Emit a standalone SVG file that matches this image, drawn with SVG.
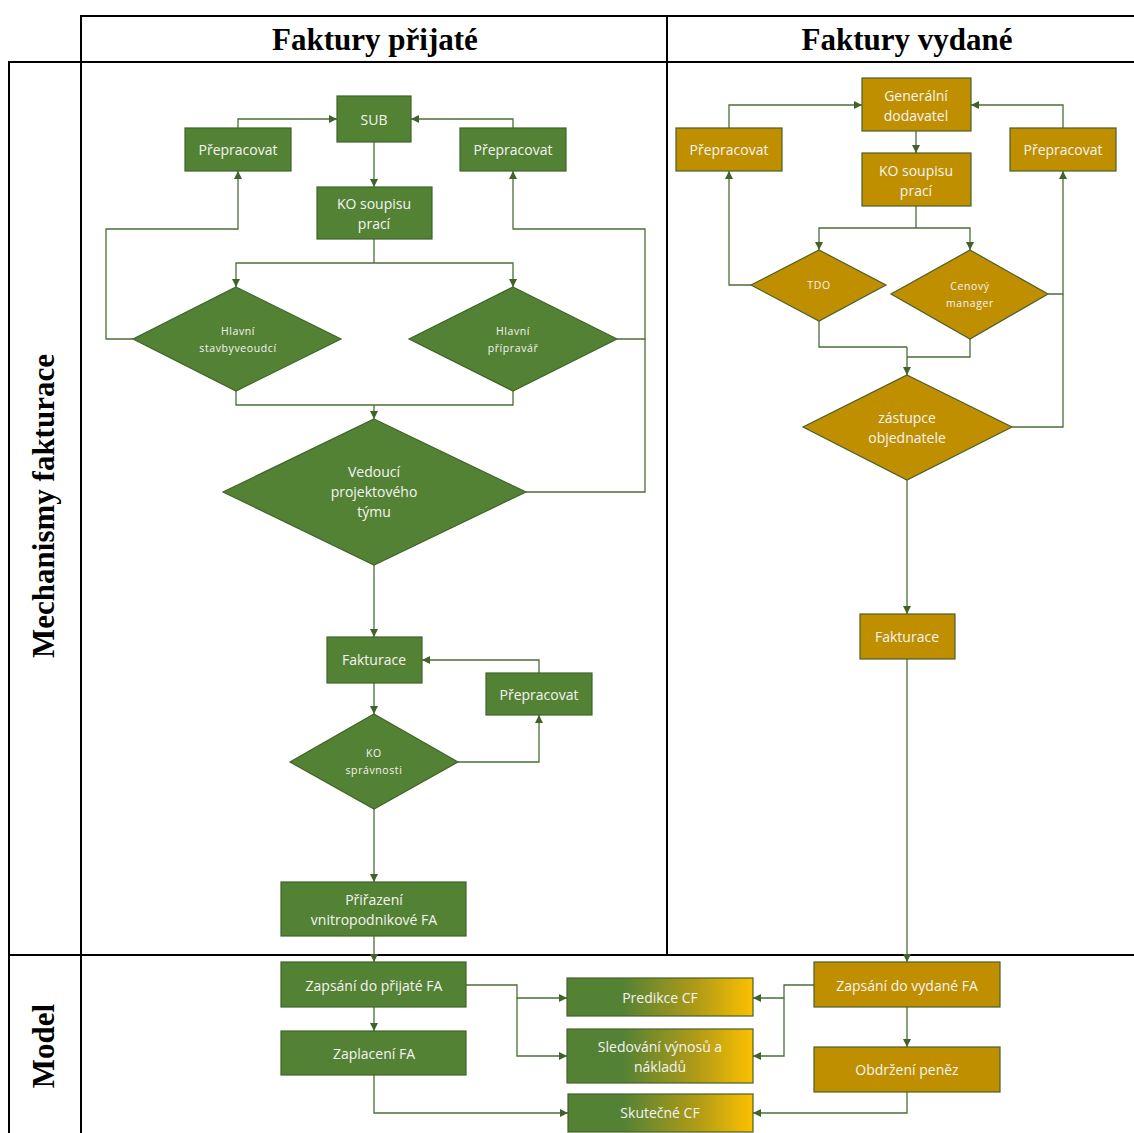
<svg xmlns="http://www.w3.org/2000/svg" width="1134" height="1133" viewBox="0 0 1134 1133">
  <defs>
    <marker id="arr" viewBox="0 0 10 10" refX="10" refY="5" markerWidth="8" markerHeight="8" markerUnits="userSpaceOnUse" orient="auto">
      <path d="M0,0 L10,5 L0,10 Z" fill="#41632b"/>
    </marker>
    <linearGradient id="mix" x1="0" y1="0" x2="1" y2="0">
      <stop offset="0" stop-color="#548235"/>
      <stop offset="0.3" stop-color="#548235"/>
      <stop offset="0.7" stop-color="#b19b16"/>
      <stop offset="1" stop-color="#fcc000"/>
    </linearGradient>
    <style>
      .frame { stroke: #000; stroke-width: 2; fill: none; }
      .head { font-family: "Liberation Serif", serif; font-weight: bold; font-size: 31px; fill: #000; }
      .g { fill: #548235; stroke: #3f6428; stroke-width: 1.2; }
      .y { fill: #bf8f00; stroke: #4a5f2a; stroke-width: 1.2; }
      .m { fill: url(#mix); stroke: #4a5f2a; stroke-width: 1.2; }
      .t { font-family: "Open Sans", "Noto Sans", sans-serif; font-size: 14px; fill: #f4f4f4; text-anchor: middle; dominant-baseline: central; }
      .s { font-family: "Open Sans", "Noto Sans", sans-serif; font-size: 10.5px; fill: #f4f4f4; text-anchor: middle; dominant-baseline: central; letter-spacing: 0.6px; }
      .c { fill: none; stroke: #4b6e37; stroke-width: 1.3; }
      .a { marker-end: url(#arr); }
    </style>
  </defs>

  <!-- swimlane frame -->
  <g id="frame">
    <line class="frame" x1="81" y1="16" x2="1134" y2="16"/>
    <line class="frame" x1="8" y1="62" x2="1134" y2="62"/>
    <line class="frame" x1="8" y1="955" x2="1134" y2="955"/>
    <line class="frame" x1="81" y1="15" x2="81" y2="1133"/>
    <line class="frame" x1="667" y1="15" x2="667" y2="955"/>
    <line class="frame" x1="9" y1="61" x2="9" y2="1133"/>
    <text class="head" x="375" y="50" text-anchor="middle">Faktury přijaté</text>
    <text class="head" x="907" y="50" text-anchor="middle">Faktury vydané</text>
    <text class="head" transform="translate(54,506) rotate(-90)" text-anchor="middle">Mechanismy fakturace</text>
    <text class="head" transform="translate(54,1046) rotate(-90)" text-anchor="middle">Model</text>
  </g>

  <!-- connectors -->
  <g id="connectors">
    <!-- received invoices -->
    <polyline class="c a" points="238,128 238,119 337,119"/>
    <polyline class="c a" points="513,128 513,119 411,119"/>
    <polyline class="c a" points="374,142 374,187"/>
    <polyline class="c" points="374,239 374,263"/>
    <polyline class="c a" points="374,263 236,263 236,287"/>
    <polyline class="c a" points="374,263 513,263 513,287"/>
    <polyline class="c a" points="133,339 106,339 106,229 238,229 238,171"/>
    <polyline class="c a" points="617,339 645,339 645,229 513,229 513,171"/>
    <polyline class="c" points="236,391 236,405 513,405 513,391"/>
    <polyline class="c a" points="374,405 374,419"/>
    <polyline class="c" points="526,492 645,492 645,339"/>
    <polyline class="c a" points="374,565 374,637"/>
    <polyline class="c a" points="374,683 374,714"/>
    <polyline class="c a" points="458,762 539,762 539,715"/>
    <polyline class="c a" points="539,673 539,660 422,660"/>
    <polyline class="c a" points="374,809 374,882"/>
    <polyline class="c a" points="374,936 374,962"/>
    <polyline class="c a" points="374,1007 374,1031"/>
    <polyline class="c a" points="466,985 517,985 517,998 567,998"/>
    <polyline class="c a" points="517,998 517,1056 567,1056"/>
    <polyline class="c a" points="374,1075 374,1113 568,1113"/>
    <!-- issued invoices -->
    <polyline class="c a" points="729,128 729,105 862,105"/>
    <polyline class="c a" points="1063,128 1063,105 971,105"/>
    <polyline class="c a" points="916,131 916,153"/>
    <polyline class="c" points="916,206 916,228"/>
    <polyline class="c a" points="916,228 819,228 819,250"/>
    <polyline class="c a" points="916,228 970,228 970,250"/>
    <polyline class="c a" points="751,285 729,285 729,171"/>
    <polyline class="c a" points="1048,294 1063,294 1063,171"/>
    <polyline class="c" points="1012,427 1063,427 1063,294"/>
    <polyline class="c" points="819,321 819,347 907,347"/>
    <polyline class="c" points="970,339 970,357 907,357"/>
    <polyline class="c a" points="907,347 907,375"/>
    <polyline class="c a" points="907,480 907,614"/>
    <polyline class="c a" points="907,659 907,962"/>
    <polyline class="c a" points="814,985 784,985 784,998 753,998"/>
    <polyline class="c a" points="784,998 784,1056 753,1056"/>
    <polyline class="c a" points="907,1007 907,1047"/>
    <polyline class="c a" points="907,1092 907,1113 753,1113"/>
  </g>

  <!-- received invoices: nodes -->
  <g id="sub"><rect class="g" x="337" y="96" width="74" height="46"/><text class="t" x="374" y="119">SUB</text></g>
  <g id="prep-l1"><rect class="g" x="185" y="128" width="106" height="43"/><text class="t" x="238" y="149">Přepracovat</text></g>
  <g id="prep-r1"><rect class="g" x="460" y="128" width="106" height="43"/><text class="t" x="513" y="149">Přepracovat</text></g>
  <g id="ko-soupis-l"><rect class="g" x="317" y="187" width="115" height="52"/><text class="t" x="374" y="203">KO soupisu</text><text class="t" x="374" y="223">prací</text></g>
  <g id="hl-stavbyved"><polygon class="g" points="236,287 341,339 236,391 133,339"/><text class="s" x="238" y="331">Hlavní</text><text class="s" x="238" y="348">stavbyveoudcí</text></g>
  <g id="hl-pripravar"><polygon class="g" points="513,287 617,339 513,391 409,339"/><text class="s" x="513" y="331">Hlavní</text><text class="s" x="513" y="348">přípravář</text></g>
  <g id="vedouci"><polygon class="g" points="374,419 526,492 374,565 223,492"/><text class="t" x="374" y="471">Vedoucí</text><text class="t" x="374" y="491">projektového</text><text class="t" x="374" y="511">týmu</text></g>
  <g id="fakturace-l"><rect class="g" x="327" y="637" width="95" height="46"/><text class="t" x="374" y="659">Fakturace</text></g>
  <g id="prep-l2"><rect class="g" x="486" y="673" width="106" height="42"/><text class="t" x="539" y="694">Přepracovat</text></g>
  <g id="ko-spravnosti"><polygon class="g" points="374,714 458,762 374,809 290,762"/><text class="s" x="374" y="753">KO</text><text class="s" x="374" y="770">správnosti</text></g>
  <g id="prirazeni"><rect class="g" x="281" y="882" width="185" height="54"/><text class="t" x="374" y="899">Přiřazení</text><text class="t" x="374" y="919">vnitropodnikové FA</text></g>
  <g id="zapsani-prijate"><rect class="g" x="281" y="962" width="185" height="45"/><text class="t" x="374" y="985">Zapsání do přijaté FA</text></g>
  <g id="zaplaceni"><rect class="g" x="281" y="1031" width="185" height="44"/><text class="t" x="374" y="1053">Zaplacení FA</text></g>

  <!-- model: shared outputs -->
  <g id="predikce"><rect class="m" x="567" y="978" width="186" height="38"/><text class="t" x="660" y="997">Predikce CF</text></g>
  <g id="sledovani"><rect class="m" x="567" y="1029" width="186" height="54"/><text class="t" x="660" y="1046">Sledování výnosů a</text><text class="t" x="660" y="1066">nákladů</text></g>
  <g id="skutecne"><rect class="m" x="568" y="1094" width="185" height="38"/><text class="t" x="660" y="1112">Skutečné CF</text></g>

  <!-- issued invoices: nodes -->
  <g id="generalni"><rect class="y" x="862" y="78" width="109" height="53"/><text class="t" x="916" y="95">Generální</text><text class="t" x="916" y="115">dodavatel</text></g>
  <g id="prep-l3"><rect class="y" x="676" y="128" width="106" height="43"/><text class="t" x="729" y="149">Přepracovat</text></g>
  <g id="prep-r3"><rect class="y" x="1010" y="128" width="106" height="43"/><text class="t" x="1063" y="149">Přepracovat</text></g>
  <g id="ko-soupis-r"><rect class="y" x="862" y="153" width="109" height="53"/><text class="t" x="916" y="170">KO soupisu</text><text class="t" x="916" y="190">prací</text></g>
  <g id="tdo"><polygon class="y" points="819,250 886,285 819,321 751,285"/><text class="s" x="819" y="285">TDO</text></g>
  <g id="cenovy"><polygon class="y" points="970,250 1048,294 970,339 891,294"/><text class="s" x="970" y="286">Cenový</text><text class="s" x="970" y="303">manager</text></g>
  <g id="zastupce"><polygon class="y" points="907,375 1012,427 907,480 803,427"/><text class="t" x="907" y="417">zástupce</text><text class="t" x="907" y="437">objednatele</text></g>
  <g id="fakturace-r"><rect class="y" x="860" y="614" width="95" height="45"/><text class="t" x="907" y="636">Fakturace</text></g>
  <g id="zapsani-vydane"><rect class="y" x="814" y="962" width="186" height="45"/><text class="t" x="907" y="985">Zapsání do vydané FA</text></g>
  <g id="obdrzeni"><rect class="y" x="814" y="1047" width="186" height="45"/><text class="t" x="907" y="1069">Obdržení peněz</text></g>
</svg>
